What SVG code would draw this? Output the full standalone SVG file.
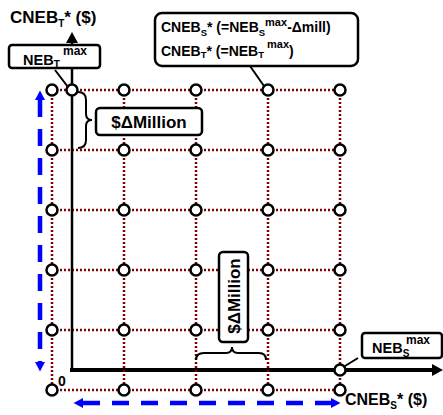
<svg xmlns="http://www.w3.org/2000/svg" width="443" height="415" viewBox="0 0 443 415">
<style>
text{font-family:"Liberation Sans",Arial,sans-serif;font-weight:bold;fill:#000}
.grid{stroke:#800000;stroke-width:2.5;stroke-dasharray:2 2;fill:none}
.pt{fill:#fff;stroke:#000;stroke-width:2.5}
.box{fill:#fff;stroke:#000;stroke-width:2.5}
.lead{stroke:#000;stroke-width:2;fill:none}
.brace{stroke:#000;stroke-width:2;fill:none}
.blue{stroke:#0000ff;stroke-width:4.5;stroke-dasharray:17 12;fill:none}
</style>
<defs>
<marker id="ab" markerUnits="userSpaceOnUse" markerWidth="10" markerHeight="10" refX="0" refY="4.5" orient="auto-start-reverse" viewBox="0 0 9 9">
<path d="M0,0 L8.5,4.5 L0,9 z" fill="#0000ff"/>
</marker>
<marker id="ak" markerUnits="userSpaceOnUse" markerWidth="12" markerHeight="12" refX="0" refY="6" orient="auto" viewBox="0 0 12 12">
<path d="M0,0 L11,6 L0,12 z" fill="#000"/>
</marker>
</defs>

<g id="x-axis">
<line x1="70" y1="370" x2="432" y2="370" stroke="#000" stroke-width="4" marker-end="url(#ak)"/>
</g>

<g id="connectors">
<g id="grid-rows">
<line class="grid" x1="52" y1="90" x2="340" y2="90"/>
<line class="grid" x1="52" y1="150" x2="340" y2="150"/>
<line class="grid" x1="52" y1="210" x2="340" y2="210"/>
<line class="grid" x1="52" y1="270" x2="340" y2="270"/>
<line class="grid" x1="52" y1="330" x2="340" y2="330"/>
<line class="grid" x1="52" y1="390" x2="340" y2="390"/>
</g>
<g id="grid-cols">
<line class="grid" x1="52" y1="90" x2="52" y2="390"/>
<line class="grid" x1="124" y1="90" x2="124" y2="390"/>
<line class="grid" x1="196" y1="90" x2="196" y2="390"/>
<line class="grid" x1="268" y1="90" x2="268" y2="390"/>
<line class="grid" x1="340" y1="90" x2="340" y2="390"/>
</g>
<line id="y-axis" x1="72" y1="372" x2="72" y2="43" stroke="#000" stroke-width="2.5" marker-end="url(#ak)"/>
<path class="blue" d="M40,100 L40,362" marker-start="url(#ab)" marker-end="url(#ab)"/>
<path class="blue" d="M83,403 L331,403" marker-start="url(#ab)" marker-end="url(#ab)"/>
<line class="lead" x1="55" y1="70" x2="68" y2="87"/>
<line class="lead" x1="250" y1="66" x2="264" y2="86"/>
<line class="lead" x1="358" y1="358" x2="345" y2="366"/>
<path class="brace" d="M78,92 Q86,92 86,100 L86,114 Q86,120 92,120 Q86,120 86,126 L86,140 Q86,148 78,148"/>
<path class="brace" d="M196,360 Q196,353 204,353 L226,353 Q232,353 232,347 Q232,353 238,353 L259,353 Q266,353 266,360"/>
</g>

<g id="points">
<circle class="pt" cx="52" cy="90" r="5.5"/><circle class="pt" cx="124" cy="90" r="5.5"/><circle class="pt" cx="196" cy="90" r="5.5"/><circle class="pt" cx="268" cy="90" r="5.5"/><circle class="pt" cx="340" cy="90" r="5.5"/>
<circle class="pt" cx="52" cy="150" r="5.5"/><circle class="pt" cx="124" cy="150" r="5.5"/><circle class="pt" cx="196" cy="150" r="5.5"/><circle class="pt" cx="268" cy="150" r="5.5"/><circle class="pt" cx="340" cy="150" r="5.5"/>
<circle class="pt" cx="52" cy="210" r="5.5"/><circle class="pt" cx="124" cy="210" r="5.5"/><circle class="pt" cx="196" cy="210" r="5.5"/><circle class="pt" cx="268" cy="210" r="5.5"/><circle class="pt" cx="340" cy="210" r="5.5"/>
<circle class="pt" cx="52" cy="270" r="5.5"/><circle class="pt" cx="124" cy="270" r="5.5"/><circle class="pt" cx="196" cy="270" r="5.5"/><circle class="pt" cx="268" cy="270" r="5.5"/><circle class="pt" cx="340" cy="270" r="5.5"/>
<circle class="pt" cx="52" cy="330" r="5.5"/><circle class="pt" cx="124" cy="330" r="5.5"/><circle class="pt" cx="196" cy="330" r="5.5"/><circle class="pt" cx="268" cy="330" r="5.5"/><circle class="pt" cx="340" cy="330" r="5.5"/>
<circle class="pt" cx="52" cy="390" r="5.5"/><circle class="pt" cx="124" cy="390" r="5.5"/><circle class="pt" cx="196" cy="390" r="5.5"/><circle class="pt" cx="268" cy="390" r="5.5"/><circle class="pt" cx="340" cy="390" r="5.5"/>
<circle class="pt" cx="72" cy="90" r="5.5"/>
<circle class="pt" cx="340" cy="370" r="5.5"/>
</g>

<g id="label-y">
<text x="10" y="23" font-size="17">CNEB<tspan font-size="10" dy="4">T</tspan><tspan dy="-4">* ($)</tspan></text>
</g>

<g id="neb-t-max">
<rect class="box" x="9" y="45" width="91" height="23" rx="3"/>
<text x="23" y="65" font-size="14.5">NEB<tspan font-size="10" dy="3">T</tspan></text>
<text x="63" y="55" font-size="12">max</text>
</g>

<g id="delta-h">
<rect class="box" x="96" y="108" width="106" height="27" rx="4"/>
<text x="149" y="127.5" font-size="17" text-anchor="middle">$ΔMillion</text>
</g>

<g id="cneb-box">
<rect class="box" x="155" y="13" width="203" height="53" rx="7"/>
<text x="161" y="32" font-size="14">CNEB<tspan font-size="9.5" dy="3.5">S</tspan><tspan dy="-3.5">* (=NEB</tspan><tspan font-size="9.5" dy="3.5">S</tspan><tspan font-size="11" dy="-10">max</tspan><tspan dy="6.5">-Δmill)</tspan></text>
<text x="161" y="56" font-size="14">CNEB<tspan font-size="9.5" dy="2">T</tspan><tspan dy="-2">* (=NEB</tspan><tspan font-size="9.5" dy="2">T</tspan><tspan font-size="11" dx="3" dy="-10">max</tspan><tspan dy="8">)</tspan></text>
</g>

<g id="delta-v">
<rect class="box" x="219" y="252" width="29" height="90" rx="4"/>
<text transform="translate(240,296) rotate(-90)" x="0" y="0" font-size="17" text-anchor="middle">$ΔMillion</text>
</g>

<g id="neb-s-max">
<rect class="box" x="362" y="333" width="80" height="25" rx="3"/>
<text x="372" y="353" font-size="14.5">NEB<tspan font-size="10" dy="3.5">S</tspan></text>
<text x="406" y="344" font-size="12">max</text>
</g>

<g id="label-x">
<text x="345" y="405" font-size="16">CNEB<tspan font-size="10" dy="3.5">S</tspan><tspan dy="-3.5">* ($)</tspan></text>
</g>

<g id="origin">
<text x="58" y="386" font-size="14">0</text>
</g>
</svg>
